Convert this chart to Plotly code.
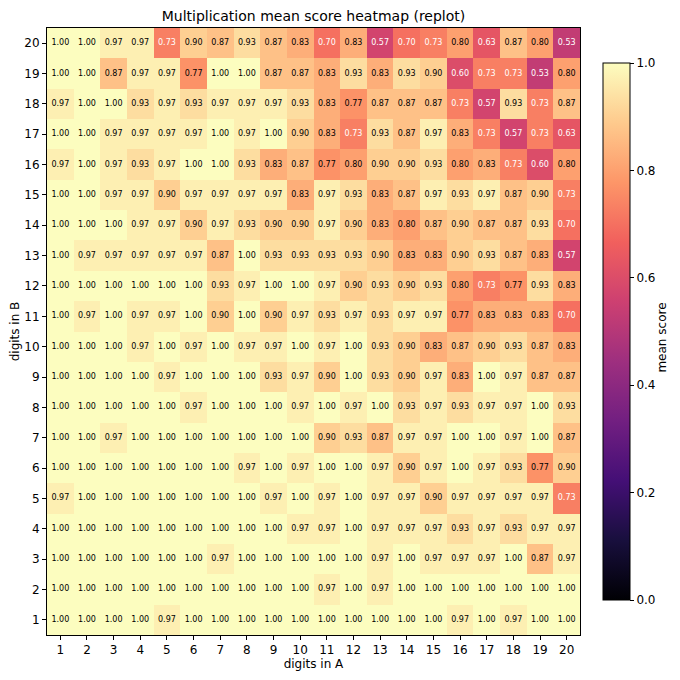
"""Replot of the multiplication mean-score heatmap (digits in A x digits in B)."""
import plotly.graph_objects as go

digits_a = list(range(1, 21))
digits_b = list(range(1, 21))

# mean score per row of digits in B, columns are digits in A = 1..20
b1 = [1.00, 1.00, 1.00, 1.00, 0.97, 1.00, 1.00, 1.00, 1.00, 1.00, 1.00, 1.00, 1.00, 1.00, 1.00, 0.97, 1.00, 0.97, 1.00, 1.00]
b2 = [1.00, 1.00, 1.00, 1.00, 1.00, 1.00, 1.00, 1.00, 1.00, 1.00, 0.97, 1.00, 0.97, 1.00, 1.00, 1.00, 1.00, 1.00, 1.00, 1.00]
b3 = [1.00, 1.00, 1.00, 1.00, 1.00, 1.00, 0.97, 1.00, 1.00, 1.00, 1.00, 1.00, 0.97, 1.00, 0.97, 0.97, 0.97, 1.00, 0.87, 0.97]
b4 = [1.00, 1.00, 1.00, 1.00, 1.00, 1.00, 1.00, 1.00, 1.00, 0.97, 0.97, 1.00, 0.97, 0.97, 0.97, 0.93, 0.97, 0.93, 0.97, 0.97]
b5 = [0.97, 1.00, 1.00, 1.00, 1.00, 1.00, 1.00, 1.00, 0.97, 1.00, 0.97, 1.00, 0.97, 0.97, 0.90, 0.97, 0.97, 0.97, 0.97, 0.73]
b6 = [1.00, 1.00, 1.00, 1.00, 1.00, 1.00, 1.00, 0.97, 1.00, 0.97, 1.00, 1.00, 0.97, 0.90, 0.97, 1.00, 0.97, 0.93, 0.77, 0.90]
b7 = [1.00, 1.00, 0.97, 1.00, 1.00, 1.00, 1.00, 1.00, 1.00, 1.00, 0.90, 0.93, 0.87, 0.97, 0.97, 1.00, 1.00, 0.97, 1.00, 0.87]
b8 = [1.00, 1.00, 1.00, 1.00, 1.00, 0.97, 1.00, 1.00, 1.00, 0.97, 1.00, 0.97, 1.00, 0.93, 0.97, 0.93, 0.97, 0.97, 1.00, 0.93]
b9 = [1.00, 1.00, 1.00, 1.00, 0.97, 1.00, 1.00, 1.00, 0.93, 0.97, 0.90, 1.00, 0.93, 0.90, 0.97, 0.83, 1.00, 0.97, 0.87, 0.87]
b10 = [1.00, 1.00, 1.00, 0.97, 1.00, 0.97, 1.00, 0.97, 0.97, 1.00, 0.97, 1.00, 0.93, 0.90, 0.83, 0.87, 0.90, 0.93, 0.87, 0.83]
b11 = [1.00, 0.97, 1.00, 0.97, 0.97, 1.00, 0.90, 1.00, 0.90, 0.97, 0.93, 0.97, 0.93, 0.97, 0.97, 0.77, 0.83, 0.83, 0.83, 0.70]
b12 = [1.00, 1.00, 1.00, 1.00, 1.00, 1.00, 0.93, 0.97, 1.00, 1.00, 0.97, 0.90, 0.93, 0.90, 0.93, 0.80, 0.73, 0.77, 0.93, 0.83]
b13 = [1.00, 0.97, 0.97, 0.97, 0.97, 0.97, 0.87, 1.00, 0.93, 0.93, 0.93, 0.93, 0.90, 0.83, 0.83, 0.90, 0.93, 0.87, 0.83, 0.57]
b14 = [1.00, 1.00, 1.00, 0.97, 0.97, 0.90, 0.97, 0.93, 0.90, 0.90, 0.97, 0.90, 0.83, 0.80, 0.87, 0.90, 0.87, 0.87, 0.93, 0.70]
b15 = [1.00, 1.00, 0.97, 0.97, 0.90, 0.97, 0.97, 0.97, 0.97, 0.83, 0.97, 0.93, 0.83, 0.87, 0.97, 0.93, 0.97, 0.87, 0.90, 0.73]
b16 = [0.97, 1.00, 0.97, 0.93, 0.97, 1.00, 1.00, 0.93, 0.83, 0.87, 0.77, 0.80, 0.90, 0.90, 0.93, 0.80, 0.83, 0.73, 0.60, 0.80]
b17 = [1.00, 1.00, 0.97, 0.97, 0.97, 0.97, 1.00, 0.97, 1.00, 0.90, 0.83, 0.73, 0.93, 0.87, 0.97, 0.83, 0.73, 0.57, 0.73, 0.63]
b18 = [0.97, 1.00, 1.00, 0.93, 0.97, 0.93, 0.97, 0.97, 0.97, 0.93, 0.83, 0.77, 0.87, 0.87, 0.87, 0.73, 0.57, 0.93, 0.73, 0.87]
b19 = [1.00, 1.00, 0.87, 0.97, 0.97, 0.77, 1.00, 1.00, 0.87, 0.87, 0.83, 0.93, 0.83, 0.93, 0.90, 0.60, 0.73, 0.73, 0.53, 0.80]
b20 = [1.00, 1.00, 0.97, 0.97, 0.73, 0.90, 0.87, 0.93, 0.87, 0.83, 0.70, 0.83, 0.57, 0.70, 0.73, 0.80, 0.63, 0.87, 0.80, 0.53]

cbar_ticks = [0.0, 0.2, 0.4, 0.6, 0.8, 1.0]

scores = [b1, b2, b3, b4, b5, b6, b7, b8, b9, b10,
          b11, b12, b13, b14, b15, b16, b17, b18, b19, b20]

FONT = "DejaVu Sans"
# the page body has an 8px margin, so the figure is 672px and sits at (8, 8)
W, H = 672, 672
L, R, T, B = 39, 100, 20, 45
PW, PH = W - L - R, H - T - B

# cell labels: white on the darker cells, black elsewhere
tx, ty, tt, tc = [], [], [], []
for j, yb in enumerate(digits_b):
    for i, xa in enumerate(digits_a):
        v = scores[j][i]
        tx.append(xa)
        ty.append(yb)
        tt.append(f"{v:.2f}")
        tc.append("white" if v < 0.75 else "black")

fig = go.Figure()
fig.add_trace(go.Heatmap(
    z=scores, x=digits_a, y=digits_b,
    colorscale="Magma", zmin=0, zmax=1,
    hoverongaps=False,
    colorbar=dict(
        thickness=27, len=537 / PH, lenmode="fraction",
        x=(595 - L) / PW, xanchor="left", y=0.5, yanchor="middle",
        xpad=0, ypad=0,
        outlinewidth=1, outlinecolor="black",
        ticks="outside", ticklen=4, tickcolor="black",
        tickvals=cbar_ticks, ticktext=[f"{t:.1f}" for t in cbar_ticks],
        tickfont=dict(size=12, family=FONT, color="black"),
    ),
))
fig.add_trace(go.Scatter(
    x=tx, y=ty, text=tt, mode="text",
    textfont=dict(size=8, family=FONT, color=tc),
    hoverinfo="skip", showlegend=False,
))

# colorbar label, set a bit further out than plotly's own colorbar title
fig.add_annotation(text="mean score", textangle=-90, showarrow=False,
                   xref="paper", yref="paper", x=(654 - L) / PW, y=0.49,
                   xanchor="center", yanchor="middle",
                   font=dict(size=12, family=FONT, color="black"))

axis = dict(
    tickmode="array", tickvals=digits_a, range=[0.5, 20.5],
    showgrid=False, zeroline=False, automargin=False,
    showline=True, mirror=True, linecolor="black", linewidth=1,
    ticks="outside", ticklen=4, tickcolor="black",
    tickfont=dict(size=12, family=FONT, color="black"),
)
fig.update_xaxes(**axis, title=dict(text="digits in A", standoff=0,
                                    font=dict(size=12, family=FONT, color="black")))
fig.update_yaxes(**axis, title=dict(text="digits in B", standoff=3,
                                    font=dict(size=12, family=FONT, color="black")))

fig.update_layout(
    width=W, height=H,
    margin=dict(l=L, r=R, t=T, b=B, autoexpand=False),
    title=dict(text="Multiplication mean score heatmap (replot)",
               x=0.5, xref="paper", y=1 - 8 / H, yref="container", yanchor="middle",
               font=dict(size=14, family=FONT, color="black")),
    plot_bgcolor="white", paper_bgcolor="white",
    font=dict(family=FONT, color="black"),
)

fig.write_html("out.html")
